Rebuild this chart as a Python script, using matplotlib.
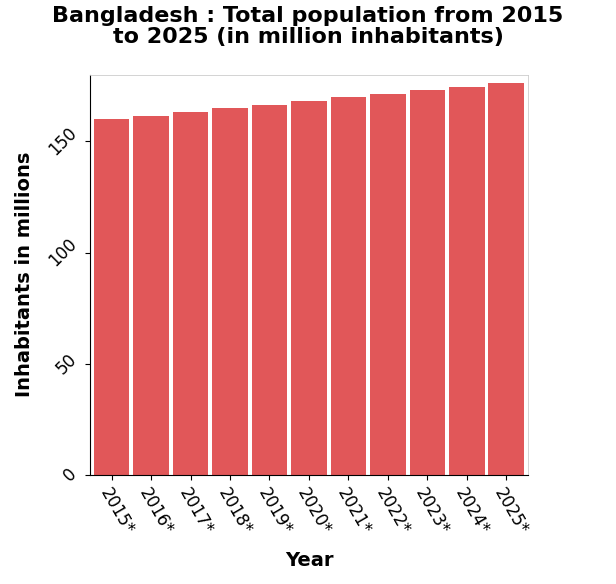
import matplotlib.pyplot as plt

years = ['2015*', '2016*', '2017*', '2018*', '2019*', '2020*', '2021*', '2022*', '2023*', '2024*', '2025*']
population = [159.9, 161.5, 163.2, 164.9, 166.6, 168.2, 169.8, 171.5, 173.1, 174.7, 176.3]

fig = plt.figure(figsize=(6.16, 5.84), dpi=100)
ax = fig.add_axes([0.146, 0.187, 0.711, 0.685])

x = range(len(years))
ax.bar(x, population, width=0.9, color='#e15759')
ax.set_xlim(-0.55, len(years) - 0.45)
ax.set_ylim(0, 180)
ax.set_yticks([0, 50, 100, 150])
ax.set_xticks(list(x))
ax.set_xticklabels(years, rotation=-60, ha='left', va='top', rotation_mode='anchor', fontsize=12)
for lbl in ax.get_yticklabels():
    lbl.set_rotation(45)
    lbl.set_fontsize(12)
    lbl.set_va('center')

for s in ['top', 'right']:
    ax.spines[s].set_color('#cccccc')
    ax.spines[s].set_linewidth(0.6)

ax.set_xlabel('Year', fontsize=14, fontweight='bold', labelpad=10)
ax.set_ylabel('Inhabitants in millions', fontsize=14, fontweight='bold', labelpad=8)
fig.suptitle('Bangladesh : Total population from 2015\nto 2025 (in million inhabitants)',
             fontsize=16, fontweight='bold', y=0.99, linespacing=1.1)

fig.savefig('out.png', dpi=100)
